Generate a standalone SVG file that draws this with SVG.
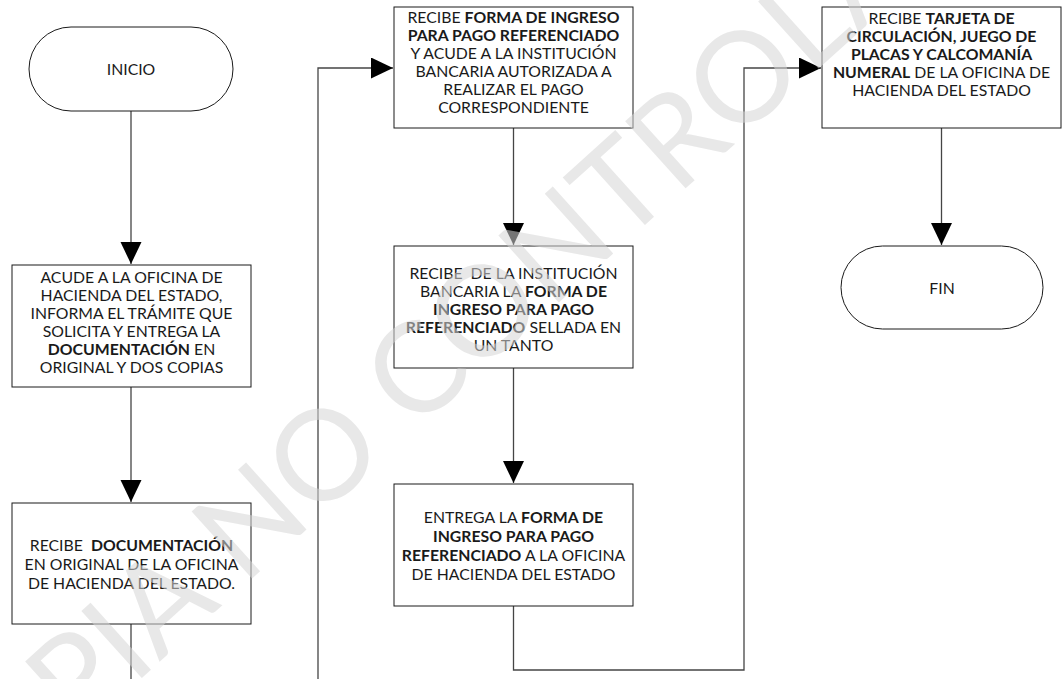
<svg xmlns="http://www.w3.org/2000/svg" width="1063" height="679" viewBox="0 0 1063 679">
  <style>
    .box { fill: #ffffff; stroke: #1a1a1a; stroke-width: 1; }
    .lbl { font-family: Lato, "Liberation Sans", sans-serif; font-size: 15.8px; fill: #1a1a1a; text-anchor: middle; }
    .b { font-weight: bold; }
    .wire { fill: none; stroke: #454545; stroke-width: 1.3; }
    .mark { font-family: Lato, "Liberation Sans", sans-serif; font-size: 126px; fill: #d6d6d6; opacity: 0.55; text-anchor: middle; }
  </style>
  <defs>
    <marker id="arrow" markerUnits="userSpaceOnUse" markerWidth="23" markerHeight="22" refX="22" refY="10.5" orient="auto">
      <path d="M0,0 L22,10.5 L0,21 Z" fill="#000000"/>
    </marker>
  </defs>
  <rect width="1063" height="679" fill="#ffffff"/>

  <!-- connectors -->
  <g id="connectors">
    <path class="wire" d="M131,111 V264" marker-end="url(#arrow)"/>
    <path class="wire" d="M131,387 V502" marker-end="url(#arrow)"/>
    <path class="wire" d="M131,624 V679"/>
    <path class="wire" d="M318,679 V68 H393" marker-end="url(#arrow)"/>
    <path class="wire" d="M513.5,128 V245" marker-end="url(#arrow)"/>
    <path class="wire" d="M513.5,368 V483" marker-end="url(#arrow)"/>
    <path class="wire" d="M513.5,606 V670 H744 V68 H821" marker-end="url(#arrow)"/>
    <path class="wire" d="M941.5,128 V245" marker-end="url(#arrow)"/>
  </g>

  <g id="inicio">
    <rect class="box" x="29" y="27" width="204" height="84" rx="42"/>
    <text class="lbl" x="131" y="75">INICIO</text>
  </g>

  <g id="acude-oficina">
    <rect class="box" x="12" y="265" width="239" height="122"/>
    <text class="lbl" x="131.5" y="283">ACUDE A LA OFICINA DE</text>
    <text class="lbl" x="131.5" y="301">HACIENDA DEL ESTADO,</text>
    <text class="lbl" x="131.5" y="319">INFORMA EL TRÁMITE QUE</text>
    <text class="lbl" x="131.5" y="337">SOLICITA Y ENTREGA LA</text>
    <text class="lbl" x="131.5" y="355"><tspan class="b">DOCUMENTACIÓN</tspan> EN</text>
    <text class="lbl" x="131.5" y="373">ORIGINAL Y DOS COPIAS</text>
  </g>

  <g id="recibe-documentacion">
    <rect class="box" x="12" y="503" width="239" height="121"/>
    <text class="lbl" x="131.5" y="551" xml:space="preserve">RECIBE  <tspan class="b">DOCUMENTACIÓN</tspan></text>
    <text class="lbl" x="131.5" y="570">EN ORIGINAL DE LA OFICINA</text>
    <text class="lbl" x="131.5" y="589">DE HACIENDA DEL ESTADO.</text>
  </g>

  <g id="recibe-forma">
    <rect class="box" x="394" y="7" width="239" height="121"/>
    <text class="lbl" x="513.5" y="23">RECIBE <tspan class="b">FORMA DE INGRESO</tspan></text>
    <text class="lbl b" x="513.5" y="41">PARA PAGO REFERENCIADO</text>
    <text class="lbl" x="513.5" y="59">Y ACUDE A LA INSTITUCIÓN</text>
    <text class="lbl" x="513.5" y="77">BANCARIA AUTORIZADA A</text>
    <text class="lbl" x="513.5" y="95">REALIZAR EL PAGO</text>
    <text class="lbl" x="513.5" y="113">CORRESPONDIENTE</text>
  </g>

  <g id="recibe-sellada">
    <rect class="box" x="394" y="246" width="239" height="122"/>
    <text class="lbl" x="513.5" y="279" xml:space="preserve">RECIBE  DE LA INSTITUCIÓN</text>
    <text class="lbl" x="513.5" y="297">BANCARIA LA <tspan class="b">FORMA DE</tspan></text>
    <text class="lbl b" x="513.5" y="315">INGRESO PARA PAGO</text>
    <text class="lbl" x="513.5" y="333"><tspan class="b">REFERENCIADO</tspan> SELLADA EN</text>
    <text class="lbl" x="513.5" y="351">UN TANTO</text>
  </g>

  <g id="entrega-forma">
    <rect class="box" x="394" y="484" width="239" height="122"/>
    <text class="lbl" x="513.5" y="523">ENTREGA LA <tspan class="b">FORMA DE</tspan></text>
    <text class="lbl b" x="513.5" y="542">INGRESO PARA PAGO</text>
    <text class="lbl" x="513.5" y="561"><tspan class="b">REFERENCIADO</tspan> A LA OFICINA</text>
    <text class="lbl" x="513.5" y="580">DE HACIENDA DEL ESTADO</text>
  </g>

  <g id="recibe-tarjeta">
    <rect class="box" x="822" y="7" width="239" height="121"/>
    <text class="lbl" x="941.5" y="24">RECIBE <tspan class="b">TARJETA DE</tspan></text>
    <text class="lbl b" x="941.5" y="42">CIRCULACIÓN, JUEGO DE</text>
    <text class="lbl b" x="941.5" y="60">PLACAS Y CALCOMANÍA</text>
    <text class="lbl" x="941.5" y="78"><tspan class="b">NUMERAL</tspan> DE LA OFICINA DE</text>
    <text class="lbl" x="941.5" y="96">HACIENDA DEL ESTADO</text>
  </g>

  <g id="fin">
    <rect class="box" x="841" y="246" width="202" height="83" rx="41.5"/>
    <text class="lbl" x="942" y="294">FIN</text>
  </g>

  <!-- diagonal watermark over the sheet -->
  <text class="mark" transform="translate(468,325) rotate(-42)" y="44">COPIA NO CONTROLADA</text>
</svg>
